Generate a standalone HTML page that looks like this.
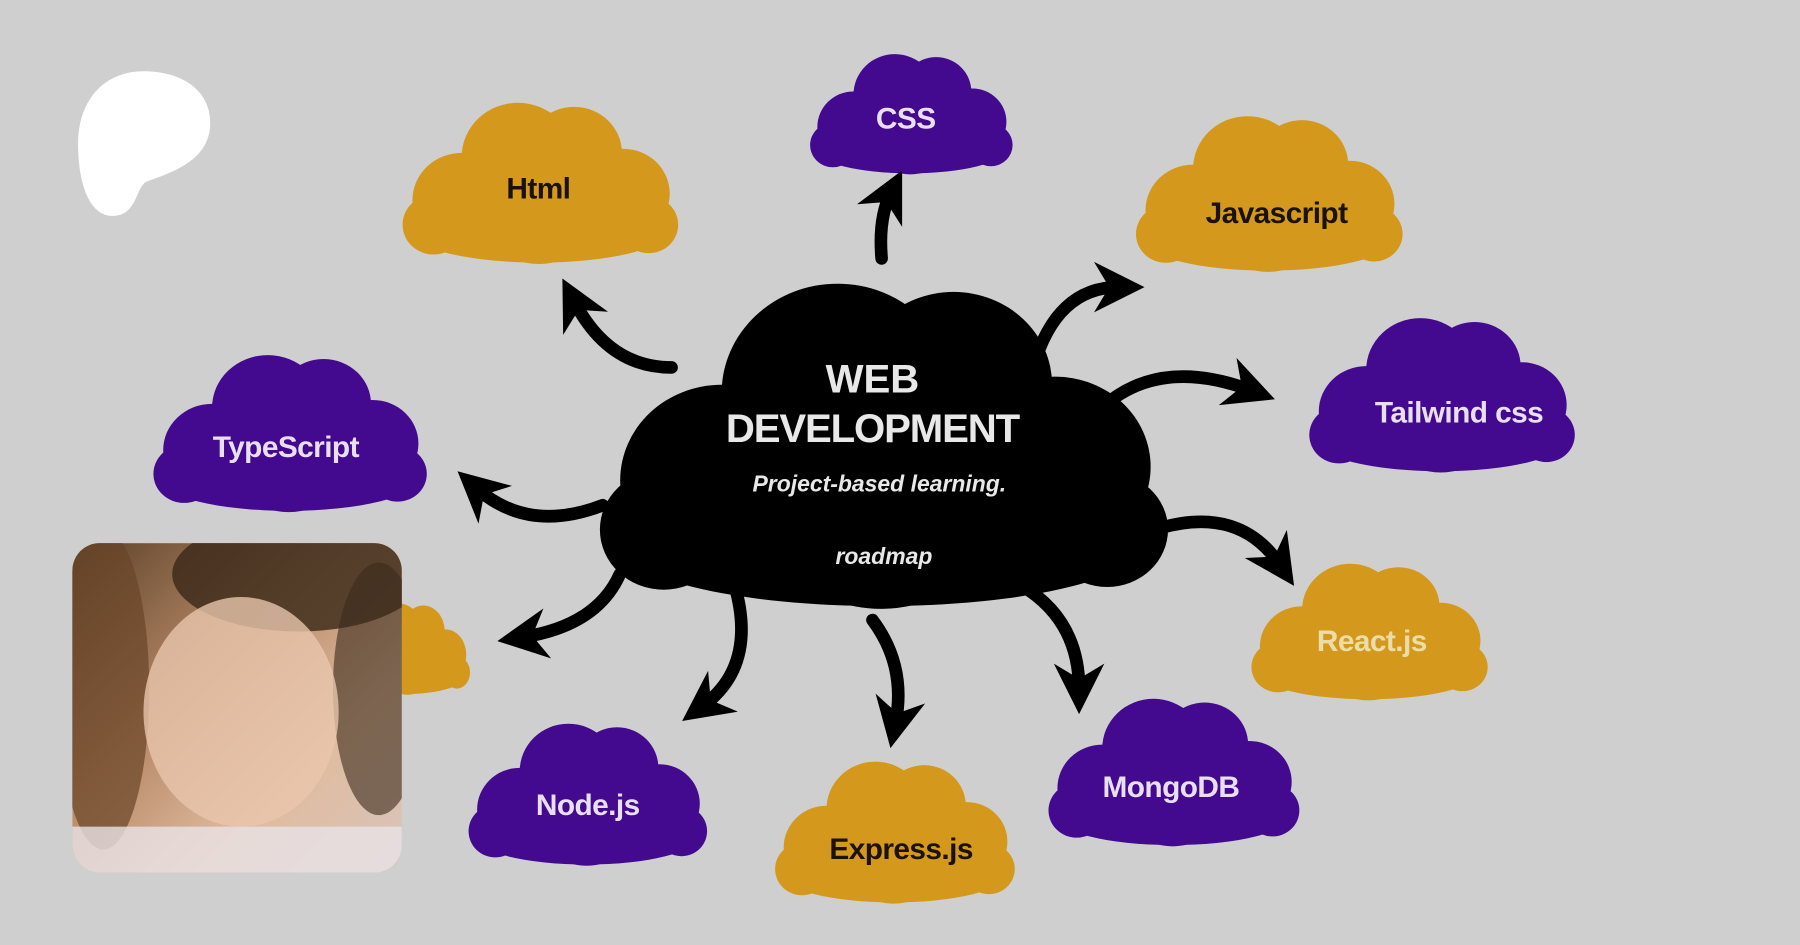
<!DOCTYPE html>
<html><head><meta charset="utf-8"><style>
html,body{margin:0;padding:0;background:#cfcfcf;overflow:hidden}
svg{display:block}
text{font-family:"Liberation Sans",sans-serif;font-weight:bold;text-anchor:middle}
</style></head><body>
<svg width="1800" height="945" viewBox="0 0 1568 823" xmlns="http://www.w3.org/2000/svg">
<defs>
<g id="c">
<circle cx="45" cy="80" r="35"/><circle cx="85" cy="48" r="40"/><circle cx="125" cy="45" r="34"/>
<circle cx="160" cy="75" r="33"/><circle cx="100" cy="82" r="45"/><circle cx="25" cy="98" r="22"/>
<circle cx="178" cy="98" r="21"/><ellipse cx="100" cy="102" rx="92" ry="24"/>
</g>
<marker id="ah" viewBox="0 0 10 10" refX="5" refY="5" markerWidth="4" markerHeight="4" orient="auto">
<path d="M0,0 L10,5 L0,10 L3,5Z" fill="#000"/></marker>
<linearGradient id="ph" x1="0" y1="0" x2="1" y2="1">
<stop offset="0" stop-color="#5a4028"/><stop offset="0.4" stop-color="#b88a68"/>
<stop offset="0.7" stop-color="#e0bca0"/><stop offset="1" stop-color="#d8c4bc"/></linearGradient>
</defs>
<rect width="1568" height="823" fill="#cfcfcf"/>
<g fill="#d4991c">
<use href="#c" transform="translate(347,80) scale(1.225,1.18)"/>
<use href="#c" transform="translate(986,92) scale(1.185,1.14)"/>
<use href="#c" transform="translate(1087,483) scale(1.05,1.0)"/>
<use href="#c" transform="translate(300,520) scale(0.55,0.67)"/>
<use href="#c" transform="translate(672,655) scale(1.065,1.04)"/>
</g>
<g fill="#43098e">
<use href="#c" transform="translate(703,40) scale(0.9,0.88)"/>
<use href="#c" transform="translate(1137,268) scale(1.18,1.13)"/>
<use href="#c" transform="translate(130,300) scale(1.215,1.15)"/>
<use href="#c" transform="translate(405,622) scale(1.06,1.04)"/>
<use href="#c" transform="translate(910,600) scale(1.115,1.08)"/>
</g>
<g fill="#000">
<use href="#c" transform="translate(515,228) scale(2.525,2.38)"/>
</g>
<g fill="none" stroke="#000" stroke-width="11" stroke-linecap="round" marker-end="url(#ah)">
<path d="M768,225 Q765,190 776,168"/>
<path d="M585,320 Q530,320 500,262"/>
<path d="M900,320 Q920,250 975,250"/>
<path d="M960,355 Q1010,310 1090,340"/>
<path d="M525,440 Q460,465 415,425"/>
<path d="M540,500 Q520,545 455,555"/>
<path d="M640,510 Q660,580 612,615"/>
<path d="M760,540 Q790,580 780,630"/>
<path d="M890,510 Q940,540 940,600"/>
<path d="M1010,460 Q1080,440 1115,492"/>
</g>
<g font-size="26" letter-spacing="-0.5">
<text x="789" y="112" fill="#e8e0f0">CSS</text>
<text x="469" y="173" fill="#1a1208">Html</text>
<text x="1112" y="194" fill="#1a1208">Javascript</text>
<text x="1271" y="368" fill="#e8e0f0">Tailwind css</text>
<text x="249" y="398" fill="#e8e0f0">TypeScript</text>
<text x="1195" y="567" fill="#ecdca8">React.js</text>
<text x="512" y="710" fill="#e8e0f0">Node.js</text>
<text x="785" y="748" fill="#1a1208">Express.js</text>
<text x="1020" y="694" fill="#e8e0f0">MongoDB</text>
</g>
<text x="760" y="342" font-size="35" fill="#e8e8e8">WEB</text>
<text x="760" y="385" font-size="35" fill="#e8e8e8" letter-spacing="-1">DEVELOPMENT</text>
<text x="766" y="428" font-size="20" font-style="italic" font-weight="normal" fill="#e8e8e8">Project-based learning.</text>
<text x="770" y="491" font-size="20" font-style="italic" font-weight="normal" fill="#e8e8e8">roadmap</text>
<path d="M125,62 C160,62 185,80 183,110 C181,140 150,150 128,158 C118,162 120,188 98,188 C78,188 68,160 68,125 C68,88 90,62 125,62Z" fill="#fff"/>
<clipPath id="pc"><rect x="63" y="473" width="287" height="287" rx="24"/></clipPath>
<g clip-path="url(#pc)">
<rect x="63" y="473" width="287" height="287" fill="url(#ph)"/>
<ellipse cx="90" cy="600" rx="40" ry="140" fill="#6a4428" opacity="0.7"/>
<ellipse cx="260" cy="500" rx="110" ry="50" fill="#3a2818" opacity="0.8"/>
<ellipse cx="330" cy="600" rx="40" ry="110" fill="#3a2a1a" opacity="0.6"/>
<ellipse cx="210" cy="620" rx="85" ry="100" fill="#e8c6ac" opacity="0.8"/>
<rect x="63" y="720" width="287" height="40" fill="#e8e2e6" opacity="0.8"/>
</g>
</svg>
</body></html>
